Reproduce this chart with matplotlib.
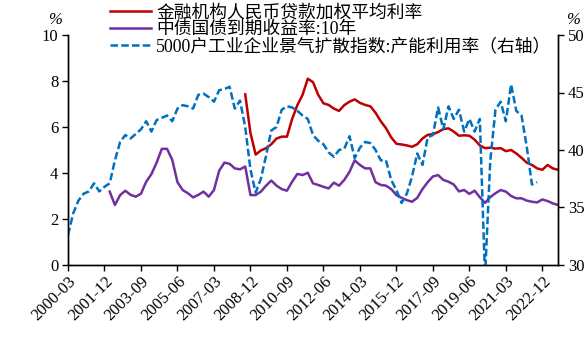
import numpy as np
import pandas as pd
import matplotlib
matplotlib.use("Agg")
import matplotlib.pyplot as plt

plt.rcParams['font.family'] = ['Liberation Serif', 'Noto Sans CJK SC']

##########################################
### quarterly data ###
##########################################

# 5000户工业企业景气扩散指数:产能利用率, 2000-03 .. 2022-09 (right axis)
capacity = [32.6, 34.5, 35.6, 36.2, 36.4, 37.1, 36.4, 36.8, 37.1, 39.1,
            40.7, 41.3, 41.0, 41.4, 41.8, 42.5, 41.6, 42.6, 42.8, 43.0,
            42.5, 43.6, 43.9, 43.8, 43.6, 44.8, 44.9, 44.6, 44.2, 45.2,
            45.3, 45.5, 43.6, 44.3, 42.0, 38.3, 36.3, 37.5, 39.5, 41.7,
            42.0, 43.5, 43.8, 43.7, 43.4, 43.0, 42.7, 41.3, 40.8, 40.5,
            39.8, 39.4, 40.0, 40.1, 41.2, 39.3, 40.2, 40.7, 40.6, 40.0,
            39.1, 39.1, 37.4, 36.5, 35.4, 36.2, 37.7, 39.7, 38.7, 41.1,
            41.3, 43.7, 41.8, 43.8, 42.7, 43.5, 41.6, 42.7, 41.6, 42.7,
            29.0, 39.0, 43.5, 44.2, 42.5, 45.7, 43.4, 43.0, 40.3, 37.0,
            37.2]

# 金融机构人民币贷款加权平均利率, 2008-09 .. 2023-09
loan_rate = [7.42, 5.74, 4.80, 4.98, 5.08, 5.25, 5.50, 5.58, 5.58, 6.35,
             6.95, 7.40, 8.10, 7.95, 7.40, 7.03, 6.96, 6.80, 6.70, 6.95,
             7.10, 7.20, 7.05, 6.96, 6.90, 6.62, 6.25, 5.95, 5.55, 5.27,
             5.24, 5.20, 5.14, 5.25, 5.50, 5.66, 5.69, 5.78, 5.91, 5.94,
             5.80, 5.62, 5.64, 5.62, 5.45, 5.20, 5.08, 5.10, 5.06, 5.08,
             4.95, 5.00, 4.85, 4.66, 4.45, 4.35, 4.20, 4.14, 4.35, 4.20,
             4.14]

# 中债国债到期收益率:10年, 2002-03 .. 2023-09
bond_10y = [3.19, 2.61, 3.04, 3.23, 3.05, 2.97, 3.10, 3.62, 3.95, 4.45,
            5.05, 5.05, 4.57, 3.60, 3.26, 3.12, 2.94, 3.05, 3.19, 2.97,
            3.26, 4.10, 4.45, 4.40, 4.20, 4.16, 4.28, 3.04, 3.04, 3.19,
            3.45, 3.67, 3.45, 3.30, 3.23, 3.62, 3.96, 3.91, 4.01, 3.55,
            3.48, 3.40, 3.33, 3.58, 3.45, 3.70, 4.05, 4.55, 4.35, 4.20,
            4.20, 3.60, 3.48, 3.45, 3.30, 3.04, 2.92, 2.82, 2.75, 2.92,
            3.30, 3.60, 3.85, 3.91, 3.70, 3.62, 3.50, 3.20, 3.26, 3.09,
            3.23, 2.95, 2.70, 2.95, 3.12, 3.26, 3.19, 3.00, 2.90, 2.90,
            2.80, 2.75, 2.72, 2.85, 2.78, 2.68, 2.61]

tick_labels = ["2000-03", "2001-12", "2003-09", "2005-06", "2007-03",
               "2008-12", "2010-09", "2012-06", "2014-03", "2015-12",
               "2017-09", "2019-06", "2021-03", "2022-12"]

labels = ["金融机构人民币贷款加权平均利率",
          "中债国债到期收益率:10年",
          "5000户工业企业景气扩散指数:产能利用率（右轴）"]

# quarterly category axis, labelled by quarter-end month
quarters = [pd.Period(q, freq="Q").end_time.strftime("%Y-%m") for q in
            pd.period_range("2000Q1", "2023Q3", freq="Q")]
pos = {q: i for i, q in enumerate(quarters)}

def series_x(start, values):
    i0 = pos[start]
    return np.arange(i0, i0 + len(values))

fig = plt.figure(figsize=(5.85, 3.53), dpi=100)
ax = fig.add_axes([68 / 585, 88 / 353, 490 / 585, 230 / 353])
ax2 = ax.twinx()

l1, = ax.plot(series_x("2008-09", loan_rate), loan_rate, color="#C00000", lw=1.8)
l2, = ax.plot(series_x("2002-03", bond_10y), bond_10y, color="#7030A0", lw=1.8)
l3, = ax2.plot(series_x("2000-03", capacity), capacity, color="#0070C0",
               lw=1.8, dashes=(3.0, 1.3))

ax.set_xlim(0, len(quarters) - 1)
ax.set_ylim(0, 10)
ax.set_yticks(np.arange(0, 11, 2))
ax2.set_ylim(30, 50)
ax2.set_yticks(np.arange(30, 51, 5))

ticks = [pos[t] for t in tick_labels]
ax.set_xticks(ticks)
ax.set_xticklabels(tick_labels, rotation=45, ha="right", rotation_mode="anchor")

for a in (ax, ax2):
    a.spines["top"].set_visible(False)
    for s in a.spines.values():
        s.set_linewidth(1.0)
    a.tick_params(direction="out", length=4, width=1.0, labelsize=12, pad=3)
ax.tick_params(axis="x", labelsize=12, pad=2)

fig.text(55 / 585, 1 - 20 / 353, "%", fontsize=12, ha="center", va="center",
         style="italic")
fig.text(566 / 585, 1 - 20 / 353, "%", fontsize=12, ha="left", va="center",
         style="italic")

fig.legend([l1, l2, l3], labels, loc="upper left",
           bbox_to_anchor=(110 / 585, 1 - 4 / 353), frameon=False,
           fontsize=12.8, handlelength=2.3, handletextpad=0.3,
           labelspacing=0.0, borderpad=0, borderaxespad=0)

fig.savefig("out.png", dpi=100)
